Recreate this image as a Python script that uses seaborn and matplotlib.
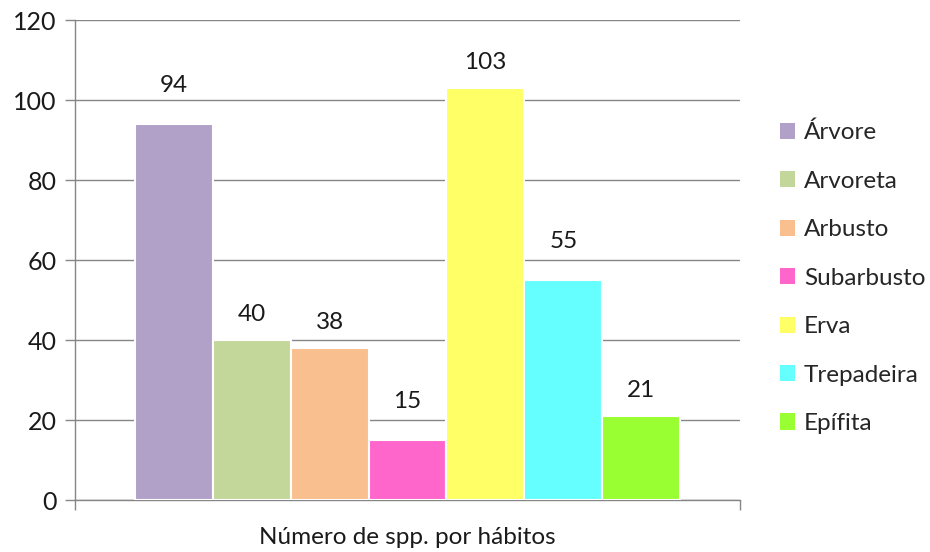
import matplotlib
matplotlib.use("Agg")
import matplotlib.pyplot as plt
import seaborn as sns
import pandas as pd

categories = ["Árvore", "Arvoreta", "Arbusto", "Subarbusto", "Erva", "Trepadeira", "Epífita"]
values = [94, 40, 38, 15, 103, 55, 21]
colors = ["#B1A0C7", "#C4D79B", "#FABF8F", "#FF66CC", "#FFFF66", "#66FFFF", "#99FF33"]
group_label = "Número de spp. por hábitos"
yticks = [0, 20, 40, 60, 80, 100, 120]

sns.set_theme(style="white")
plt.rcParams["font.family"] = ["Lato", "DejaVu Sans"]

df = pd.DataFrame({"grupo": [group_label] * len(categories),
                   "hábito": categories, "valor": values})

fig = plt.figure(figsize=(9.3, 5.52), dpi=100)
ax = fig.add_axes([75 / 930, 52 / 552, 665 / 930, 480 / 552])

sns.barplot(data=df, x="grupo", y="valor", hue="hábito", hue_order=categories,
            palette=colors, width=0.82, saturation=1, edgecolor="white",
            linewidth=1.5, ax=ax, legend=True, zorder=3)

grid_c = "#868686"
ax.set_ylim(0, 120)
ax.set_xlim(-0.5, 0.5)
ax.set_yticks(yticks)
ax.yaxis.grid(True, color=grid_c, linewidth=1, zorder=0)
ax.set_axisbelow(True)
for s in ["top", "right"]:
    ax.spines[s].set_visible(False)
for s in ["left", "bottom"]:
    ax.spines[s].set_color(grid_c)
    ax.spines[s].set_linewidth(1)
ax.set_xticks([-0.5, 0.5])
ax.set_xticklabels(["", ""])
ax.tick_params(axis="x", length=7, color=grid_c, width=1, direction="out", bottom=True)
ax.tick_params(axis="y", length=7, color=grid_c, width=1, direction="out", left=True,
               labelsize=18, labelcolor="#1a1a1a", pad=6)
ax.set_ylabel("")
ax.set_xlabel(group_label, fontsize=17.5, color="#1a1a1a", labelpad=9)

pads = [20, 11, 11, 20, 11, 20, 11]
for cont, p in zip(ax.containers, pads):
    ax.bar_label(cont, padding=p, fontsize=17.5, color="#1a1a1a")

handles, labels = ax.get_legend_handles_labels()
ax.legend(handles, labels, loc="center left", bbox_to_anchor=(1.045, 0.4625),
          frameon=False, fontsize=17.5, handlelength=0.65, handleheight=0.65,
          handletextpad=0.35, labelspacing=1.13, borderaxespad=0)
for h in ax.get_legend().legend_handles:
    h.set_edgecolor("none")

fig.savefig("out.png", dpi=100)
